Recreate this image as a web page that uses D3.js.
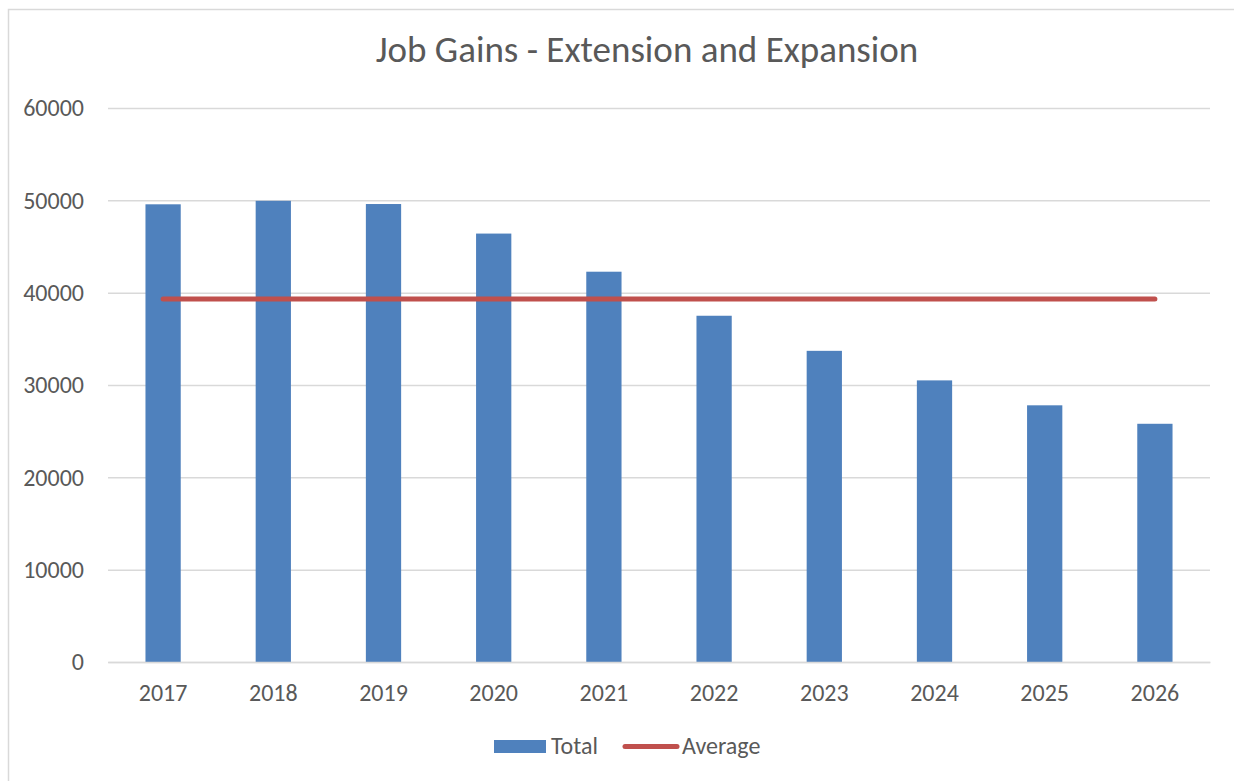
<!DOCTYPE html>
<html><head><meta charset="utf-8">
<script src="https://cdn.jsdelivr.net/npm/d3@7"></script>
<style>html,body{margin:0;padding:0;background:#fff;}svg{display:block;}</style>
</head><body>
<svg id="c" width="1234" height="781"></svg>
<script>
const years = ["2017","2018","2019","2020","2021","2022","2023","2024","2025","2026"];
const totals = [49570, 49950, 49600, 46400, 42270, 37500, 33700, 30500, 27800, 25800];
const average = [39310, 39310, 39310, 39310, 39310, 39310, 39310, 39310, 39310, 39310];
const yTicks = [0, 10000, 20000, 30000, 40000, 50000, 60000];
const title = "Job Gains - Extension and Expansion";
const legendLabels = ["Total", "Average"];

const font = "Carlito, Calibri, 'Open Sans', sans-serif";
const svg = d3.select("#c");
svg.append("rect").attr("x",8.5).attr("y",9.5).attr("width",1300).attr("height",900)
  .attr("fill","#fff").attr("stroke","#d9d9d9").attr("stroke-width",1.5);

const L=108, R=1210, T=108, B=662;
const x = d3.scaleBand().domain(years).range([L,R]).paddingInner(0.68).paddingOuter(0.34);
const y = d3.scaleLinear().domain([0,60000]).range([B,T]);

svg.append("text").attr("x",647).attr("y",62).attr("text-anchor","middle")
  .attr("font-family",font).attr("font-weight",300).attr("font-size",37).attr("fill","#595959").text(title);

const ya = svg.append("g").attr("transform",`translate(${L},0)`)
  .call(d3.axisLeft(y).tickValues(yTicks).tickSize(-(R-L)).tickPadding(24).tickFormat(d3.format("d")));
ya.select(".domain").remove();
ya.selectAll(".tick line").attr("stroke","#d9d9d9").attr("stroke-width",1.5);
ya.selectAll(".tick text").attr("font-family",font).attr("font-size",24).attr("fill","#595959");

svg.append("g").selectAll("rect").data(totals).join("rect")
  .attr("x",(d,i)=>x(years[i])).attr("width",x.bandwidth())
  .attr("y",d=>y(d)).attr("height",d=>B-y(d)).attr("fill","#4f81bd");

const xa = svg.append("g").attr("transform",`translate(0,${B})`)
  .call(d3.axisBottom(x).tickSize(0).tickPadding(22));
xa.select(".domain").attr("stroke","#d9d9d9").attr("stroke-width",1.5);
xa.selectAll(".tick text").attr("font-family",font).attr("font-size",24).attr("fill","#595959");

const line = d3.line().x((d,i)=>x(years[i])+x.bandwidth()/2).y(d=>y(d));
svg.append("path").datum(average).attr("d",line).attr("fill","none")
  .attr("stroke","#c0504d").attr("stroke-width",5).attr("stroke-linecap","round");

const lg = svg.append("g");
lg.append("rect").attr("x",494).attr("y",740).attr("width",52).attr("height",13).attr("fill","#4f81bd");
lg.append("text").attr("x",551).attr("y",754).attr("font-family",font).attr("font-size",24).attr("fill","#595959").text(legendLabels[0]);
lg.append("line").attr("x1",625).attr("x2",677).attr("y1",746.5).attr("y2",746.5)
  .attr("stroke","#c0504d").attr("stroke-width",5).attr("stroke-linecap","round");
lg.append("text").attr("x",682).attr("y",754).attr("font-family",font).attr("font-size",24).attr("fill","#595959").text(legendLabels[1]);
</script>
</body></html>
